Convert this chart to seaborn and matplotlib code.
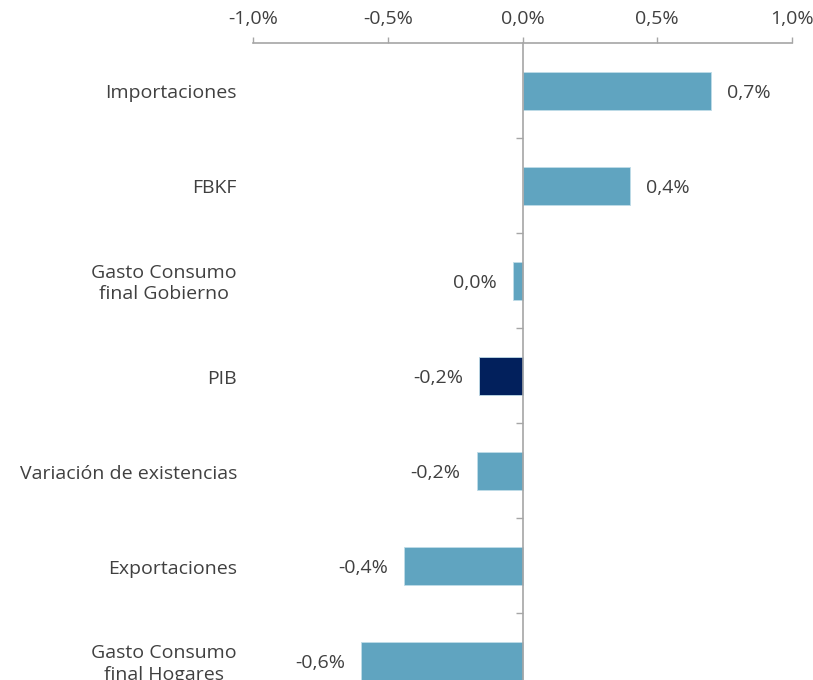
import matplotlib
matplotlib.use("Agg")
import matplotlib.pyplot as plt
import seaborn as sns
import pandas as pd

categories = ["Importaciones", "FBKF", "Gasto Consumo\nfinal Gobierno", "PIB",
              "Variación de existencias", "Exportaciones", "Gasto Consumo\nfinal Hogares"]
values = [0.70, 0.40, -0.035, -0.16, -0.17, -0.44, -0.60]
groups = ["comp", "comp", "comp", "pib", "comp", "comp", "comp"]
xticks = [-1.0, -0.5, 0.0, 0.5, 1.0]

sns.set_theme(style="white")
plt.rcParams["font.family"] = ["Open Sans", "DejaVu Sans"]
text_color = "#404040"
axis_color = "#A6A6A6"
FS = 14

df = pd.DataFrame({"cat": categories, "val": values, "grp": groups})

fig = plt.figure(figsize=(8.13, 6.8), dpi=100)
ax = fig.add_axes([253 / 813, -28.5 / 680, 539 / 813, (680 - 43 + 28.5) / 680])

sns.barplot(data=df, y="cat", x="val", hue="grp", orient="h",
            palette={"comp": "#60A4C0", "pib": "#02205C"}, saturation=1,
            width=0.4, dodge=False, legend=False, ax=ax,
            edgecolor="#BFDCE8", linewidth=0.6)

ax.set_xlim(-1.0, 1.0)
ax.set_ylim(6.5, -0.5)

def fmt(v):
    r = round(v, 1)
    if r == 0:
        r = 0.0
    return f"{r:.1f}%".replace(".", ",")

ax.xaxis.tick_top()
ax.set_xticks(xticks)
ax.set_xticklabels([fmt(t) for t in xticks], fontsize=FS, color=text_color)
ax.tick_params(axis="x", direction="out", length=4, width=1, color=axis_color, pad=6.5)
ax.set_xlabel("")
ax.set_ylabel("")

for s in ["right", "bottom"]:
    ax.spines[s].set_visible(False)
ax.spines["top"].set_color(axis_color)
ax.spines["top"].set_linewidth(1.2)
ax.spines["left"].set_position(("data", 0))
ax.spines["left"].set_color(axis_color)
ax.spines["left"].set_linewidth(1.2)

ax.set_yticks([i + 0.5 for i in range(len(categories) - 1)])
ax.set_yticklabels([])
ax.tick_params(axis="y", direction="out", length=5, width=1, color=axis_color, left=True)

for i, c in enumerate(categories):
    ax.text(-0.0297, i + 0.03, c, transform=ax.get_yaxis_transform(), ha="right", va="center",
            multialignment="center", fontsize=FS, color=text_color, linespacing=1.25)

for cont in ax.containers:
    labs = [fmt(bar.get_width()) for bar in cont]
    anns = ax.bar_label(cont, labels=labs, padding=11.5, fontsize=FS, color=text_color)
    for a in anns:
        x0, y0 = a.xyann
        a.xyann = (x0, y0 - 1.5)

fig.savefig("out.png", dpi=100)
